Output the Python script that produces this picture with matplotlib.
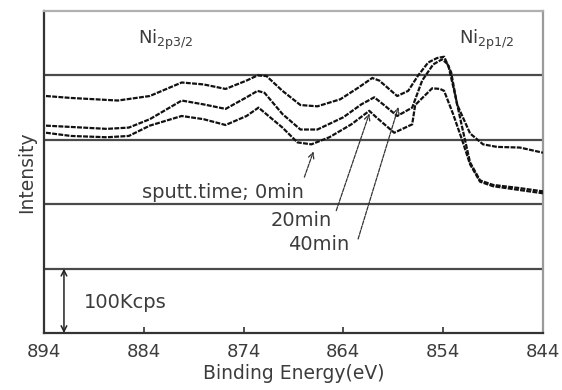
import matplotlib
matplotlib.use("Agg")
import matplotlib.pyplot as plt

# ---- data ----
be_A = [893.8, 891.3, 886.6, 883.4, 880.2, 878.0, 875.8, 873.7, 872.6, 871.7, 870.1, 868.3,
        866.6, 864.3, 862.5, 861.1, 860.4, 858.6, 857.5, 856.5, 855.5, 854.6, 853.9, 853.2,
        852.6, 851.3, 850.0, 848.6, 846.3, 844.0]
int_A = [3.68, 3.65, 3.61, 3.68, 3.89, 3.86, 3.79, 3.92, 4.00, 3.99, 3.76, 3.54,
         3.52, 3.63, 3.81, 3.96, 3.92, 3.68, 3.76, 4.00, 4.20, 4.27, 4.29, 4.05,
         3.55, 3.10, 2.93, 2.89, 2.88, 2.80]

be_B = [893.8, 891.3, 887.7, 885.5, 883.4, 880.2, 878.0, 875.8, 873.7, 872.6, 871.9, 870.1,
        868.3, 866.6, 864.0, 862.2, 860.9, 860.0, 858.6, 857.1, 856.1, 855.0, 854.1, 853.5,
        852.8, 852.1, 851.3, 850.3, 849.0, 846.3, 844.0]
int_B = [3.22, 3.20, 3.17, 3.19, 3.32, 3.61, 3.55, 3.48, 3.66, 3.76, 3.73, 3.40,
         3.16, 3.16, 3.35, 3.55, 3.66, 3.55, 3.37, 3.50, 3.92, 4.17, 4.25, 4.17,
         3.70, 3.20, 2.65, 2.37, 2.30, 2.25, 2.20]

be_C = [893.8, 891.3, 887.7, 885.5, 883.4, 880.2, 878.0, 875.8, 873.7, 872.5, 870.1, 868.6,
        867.2, 865.4, 863.2, 861.4, 860.7, 858.9, 857.1, 856.8, 855.1, 854.3, 853.9, 853.0,
        852.1, 851.3, 850.3, 849.0, 846.3, 844.0]
int_C = [3.11, 3.06, 3.04, 3.06, 3.22, 3.37, 3.32, 3.23, 3.37, 3.50, 3.19, 2.96,
         2.93, 3.04, 3.24, 3.45, 3.35, 3.11, 3.24, 3.54, 3.80, 3.79, 3.76, 3.40,
         3.00, 2.62, 2.35, 2.28, 2.22, 2.17]

x_ticks = [894, 884, 874, 864, 854, 844]
grid_levels = [1, 2, 3, 4]

TXT = "#3c3c3c"

fig = plt.figure(figsize=(5.62, 3.90), dpi=100)
ax = fig.add_axes([0.0783, 0.146, 0.966 - 0.0783, 0.9718 - 0.146])
ax.set_xlim(894, 844)
ax.set_ylim(0, 5)

for g in grid_levels:
    ax.axhline(g, color="#4a4a4a", lw=1.6, zorder=1)

for be, it in [(be_A, int_A), (be_B, int_B), (be_C, int_C)]:
    ax.plot(be, it, color="#111111", lw=1.6, ls=(0, (2.2, 0.6)), zorder=3)

# spines
ax.spines["left"].set_color("#333333")
ax.spines["bottom"].set_color("#333333")
ax.spines["top"].set_color("#b0b0b0")
ax.spines["right"].set_color("#9a9a9a")
for s in ax.spines.values():
    s.set_linewidth(1.6)

ax.set_xticks(x_ticks)
ax.set_xticklabels([str(t) for t in x_ticks])
ax.tick_params(axis="x", direction="in", length=4, width=1.2, color="#333333",
               labelsize=13, labelcolor=TXT, pad=7)
ax.set_yticks([])
ax.set_xlabel("Binding Energy(eV)", fontsize=13.5, color=TXT, labelpad=2)
ax.set_ylabel("Intensity", fontsize=13.5, color=TXT, labelpad=6)

# peak labels
ax.text(884.6, 4.55, r"Ni$_{\mathrm{2p3/2}}$", fontsize=13, color=TXT, va="center", ha="left")
ax.text(852.4, 4.55, r"Ni$_{\mathrm{2p1/2}}$", fontsize=13, color=TXT, va="center", ha="left")

# sputter time annotations
ax.text(868.0, 2.18, "sputt.time; 0min", fontsize=14, color=TXT, ha="right", va="center")
ax.annotate("", xy=(866.9, 2.86), xytext=(868.0, 2.38),
            arrowprops=dict(arrowstyle="->", color="#333333", lw=0.9, ls=(0, (3, 1))))
ax.text(865.1, 1.75, "20min", fontsize=14, color=TXT, ha="right", va="center")
ax.annotate("", xy=(861.3, 3.45), xytext=(864.8, 1.86),
            arrowprops=dict(arrowstyle="->", color="#333333", lw=0.9, ls=(0, (3, 1))))
ax.text(863.4, 1.38, "40min", fontsize=14, color=TXT, ha="right", va="center")
ax.annotate("", xy=(858.4, 3.55), xytext=(862.6, 1.42),
            arrowprops=dict(arrowstyle="->", color="#333333", lw=0.9, ls=(0, (3, 1))))

# scale bar
ax.annotate("", xy=(892.0, 1.0), xytext=(892.0, 0.0),
            arrowprops=dict(arrowstyle="<->", color="#222222", lw=1.1, shrinkA=0, shrinkB=0))
ax.text(890.0, 0.47, "100Kcps", fontsize=14, color=TXT, ha="left", va="center")

fig.savefig("out.png", dpi=100)
